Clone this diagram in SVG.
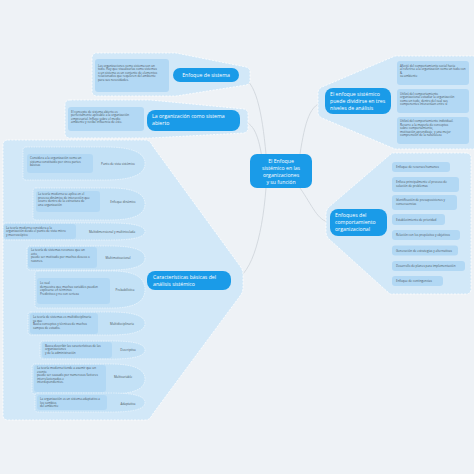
<svg xmlns="http://www.w3.org/2000/svg" width="474" height="474" viewBox="0 0 474 474">
<style>
.bg{fill:#eef2f6}
.cont{fill:#d2e8f8;stroke:#ffffff;stroke-width:0.8;stroke-dasharray:2 1.4}
.item{fill:#c3e1f6;stroke:#ffffff;stroke-width:0.5;stroke-dasharray:1.5 1}
.tb{fill:#b2d8f4}
.pill{fill:#1a9be8}
.pt{font-family:"Open Sans","Liberation Sans",sans-serif;font-size:5.2px;fill:#ffffff}
.tx{font-family:"Open Sans","Liberation Sans",sans-serif;font-size:3px;fill:#4a5560}
.lb{font-family:"Open Sans","Liberation Sans",sans-serif;font-size:3px;fill:#4a5560;text-anchor:middle}
.ln{fill:none;stroke:#cdd3d9;stroke-width:0.8}
</style>
<rect class="bg" x="0" y="0" width="474" height="474"/>

<g id="connectors">
<path class="ln" d="M266 154 C262 112 256 80 240 76"/>
<path class="ln" d="M262 158 C258 132 252 121 240 121"/>
<path class="ln" d="M300 154 C305 122 310 103 325 102"/>
<path class="ln" d="M300 188 C312 205 318 222 330 222"/>
<path class="ln" d="M266 188 C262 240 250 280 230 281"/>
</g>

<g id="enfoque-de-sistema">
<path class="cont" d="M97 53 H176 L246 67 Q250 68 250 72 V80 Q250 84 246 85 L176 96 H97 Q92 96 92 91 V58 Q92 53 97 53 Z"/>
<rect class="tb" x="95" y="59" width="74" height="33" rx="3"/>
<text class="tx" x="98" y="66.5">Las organizaciones como sistema son un</text>
<text class="tx" x="98" y="70">todo. Hay que visualizarlas como sistemas</text>
<text class="tx" x="98" y="73.5">o un sistema es un conjunto de elementos</text>
<text class="tx" x="98" y="77">relacionados que requieren del ambiente</text>
<text class="tx" x="98" y="80.5">para sus necesidades.</text>
<rect class="pill" x="173" y="68" width="66" height="14" rx="7"/>
<text class="pt" x="206" y="77" text-anchor="middle">Enfoque de sistema</text>
</g>

<g id="organizacion-sistema-abierto">
<path class="cont" d="M70 100 H150 L244 109 Q248 110 248 114 V128 Q248 132 244 133 L150 138 H70 Q65 138 65 133 V105 Q65 100 70 100 Z"/>
<rect class="tb" x="68" y="107" width="76" height="24" rx="3"/>
<text class="tx" x="71" y="112.5">El concepto de sistema abierto es</text>
<text class="tx" x="71" y="116">perfectamente aplicable a la organización</text>
<text class="tx" x="71" y="119.5">empresarial. Influye sobre el medio</text>
<text class="tx" x="71" y="123">ambiente y recibe influencia de éste.</text>
<rect class="pill" x="147" y="110" width="93" height="21" rx="8"/>
<text class="pt" x="152" y="118">La organización como sistema</text>
<text class="pt" x="152" y="124.5">abierto</text>
</g>

<g id="centro">
<rect class="pill" x="250" y="154" width="62" height="34" rx="7"/>
<text class="pt" x="281" y="163" text-anchor="middle">El Enfoque</text>
<text class="pt" x="281" y="170" text-anchor="middle">sistémico en las</text>
<text class="pt" x="281" y="177" text-anchor="middle">organizaciones</text>
<text class="pt" x="281" y="184" text-anchor="middle">y su función</text>
</g>

<g id="tres-niveles">
<path class="cont" d="M478 56 H395 L322 87 Q318 89 318 93 V112 Q318 116 322 118 L395 149 H478 Z"/>
<rect class="tb" x="397" y="61" width="72" height="24" rx="3"/>
<text class="tx" x="400" y="66.5">Afectó del comportamiento social hacia</text>
<text class="tx" x="400" y="70">al referirse a la organización como un todo con</text>
<text class="tx" x="400" y="73.5">&amp;</text>
<text class="tx" x="400" y="77">su ambiente</text>
<rect class="tb" x="397" y="89" width="72" height="24" rx="3"/>
<text class="tx" x="400" y="94.5">Utilizó del comportamiento</text>
<text class="tx" x="400" y="98">organizacional estudiar la organización</text>
<text class="tx" x="400" y="101.5">como un todo, dentro del cual sus</text>
<text class="tx" x="400" y="105">componentes interactúan entre sí</text>
<rect class="tb" x="397" y="117" width="72" height="27" rx="3"/>
<text class="tx" x="400" y="122">Utilizó del comportamiento individual.</text>
<text class="tx" x="400" y="125.5">Recurre a la mayoría de conceptos</text>
<text class="tx" x="400" y="129">sobre comportamiento,</text>
<text class="tx" x="400" y="132.5">motivación,aprendizaje, y una mejor</text>
<text class="tx" x="400" y="136">comprensión de la naturaleza</text>
<rect class="pill" x="325" y="88" width="66" height="26" rx="8"/>
<text class="pt" x="330" y="96">El enfoque sistémico</text>
<text class="pt" x="330" y="103">puede dividirse en tres</text>
<text class="pt" x="330" y="110">niveles de análisis</text>
</g>

<g id="comportamiento-organizacional">
<path class="cont" d="M466 153 H392 L329 207 Q326 210 326 214 V232 Q326 236 329 239 L390 294 H466 Q471 294 471 289 V158 Q471 153 466 153 Z"/>
<rect class="tb" x="392" y="162" width="58" height="10" rx="3"/>
<text class="tx" x="396" y="168">Enfoque de recursos humanos</text>
<rect class="tb" x="392" y="177" width="67" height="15" rx="3"/>
<text class="tx" x="396" y="183">Enfoca principalmente el proceso de</text>
<text class="tx" x="396" y="186.5">solución de problemas</text>
<rect class="tb" x="392" y="195" width="65" height="15" rx="3"/>
<text class="tx" x="396" y="201">Identificación de presuposiciones y</text>
<text class="tx" x="396" y="204.5">consecuencias</text>
<rect class="tb" x="392" y="214" width="53" height="11" rx="3"/>
<text class="tx" x="396" y="220.5">Establecimiento de prioridad</text>
<rect class="tb" x="392" y="230" width="68" height="10" rx="3"/>
<text class="tx" x="396" y="236">Relación con los propósitos y objetivos</text>
<rect class="tb" x="392" y="245.5" width="66" height="10" rx="3"/>
<text class="tx" x="396" y="251.5">Generación de estrategias y alternativas</text>
<rect class="tb" x="392" y="261" width="73" height="10" rx="3"/>
<text class="tx" x="396" y="267">Desarrollo de planes para implementación</text>
<rect class="tb" x="392" y="276" width="51" height="10" rx="3"/>
<text class="tx" x="396" y="282">Enfoque de contingencias</text>
<rect class="pill" x="330" y="209" width="57" height="27" rx="8"/>
<text class="pt" x="335" y="216.5">Enfoques del</text>
<text class="pt" x="335" y="223.5">comportamiento</text>
<text class="pt" x="335" y="230.5">organizacional</text>
</g>

<g id="caracteristicas">
<path class="cont" d="M8 140 H145 Q150 140 152 145 L240 266 Q243 270 243 274 V288 Q243 292 240 296 L152 415 Q150 420 145 420 H8 Q3 420 3 415 V145 Q3 140 8 140 Z"/>

<g id="punto-de-vista">
<path class="item" d="M26 147 H105 Q145 147 145 163.5 Q145 180 105 180 H26 Q23 180 23 177 V150 Q23 147 26 147 Z"/>
<rect class="tb" x="27" y="154" width="66" height="19" rx="3"/>
<text class="tx" x="30" y="159.3">Considera a la organización como un</text>
<text class="tx" x="30" y="162.8">sistema constituido por cinco partes</text>
<text class="tx" x="30" y="166.3">básicas</text>
<text class="lb" x="118" y="165">Punto de vista sistémico</text>
</g>
<g id="enfoque-dinamico">
<path class="item" d="M36 188 H110 Q145 188 145 204 Q145 220 110 220 H36 Q33 220 33 217 V191 Q33 188 36 188 Z"/>
<rect class="tb" x="36" y="191" width="64" height="21" rx="3"/>
<text class="tx" x="38" y="195">La teoría moderna se aplica en el</text>
<text class="tx" x="38" y="198.7">proceso dinámico de interacción que</text>
<text class="tx" x="38" y="202.4">ocurre dentro de la estructura de</text>
<text class="tx" x="38" y="206.1">una organización</text>
<text class="lb" x="123" y="203">Enfoque dinámico</text>
</g>
<g id="multidimensional">
<path class="item" d="M6 223 H110 Q145 223 145 231.5 Q145 240 110 240 H6 Q3 240 3 237 V226 Q3 223 6 223 Z"/>
<rect class="tb" x="4" y="224" width="72" height="15" rx="3"/>
<text class="tx" x="6" y="228.5">La teoría moderna considera a la</text>
<text class="tx" x="6" y="232">organización desde el punto de vista micro</text>
<text class="tx" x="6" y="235.5">y macroscópico</text>
<text class="lb" x="112" y="233">Multidimensional y multinivelada</text>
</g>
<g id="multimotivacional">
<path class="item" d="M30 246 H110 Q145 246 145 258 Q145 270 110 270 H30 Q27 270 27 267 V249 Q27 246 30 246 Z"/>
<rect class="tb" x="28" y="247" width="69" height="21" rx="3"/>
<text class="tx" x="31" y="251">La teoría de sistemas reconoce que un</text>
<text class="tx" x="31" y="254.5">acto</text>
<text class="tx" x="31" y="258">puede ser motivado por muchos deseos o</text>
<text class="tx" x="31" y="261.5">razones.</text>
<text class="lb" x="118" y="259">Multimotivacional</text>
</g>
<g id="probabilistica">
<path class="item" d="M38 271 H112 Q145 271 145 289.5 Q145 308 112 308 H38 Q35 308 35 305 V274 Q35 271 38 271 Z"/>
<rect class="tb" x="37" y="278" width="73" height="26" rx="3"/>
<text class="tx" x="40" y="284">Lo cual</text>
<text class="tx" x="40" y="287.5">demuestra que muchas variables pueden</text>
<text class="tx" x="40" y="291">explicarse en términos</text>
<text class="tx" x="40" y="294.5">Predictivos y no con certeza</text>
<text class="lb" x="125" y="291">Probabilística</text>
</g>
<g id="multidisciplinaria">
<path class="item" d="M31 312 H110 Q145 312 145 323.5 Q145 335 110 335 H31 Q28 335 28 332 V315 Q28 312 31 312 Z"/>
<rect class="tb" x="30" y="313" width="68" height="21" rx="3"/>
<text class="tx" x="33" y="318.3">La teoría de sistemas es multidisciplinaria</text>
<text class="tx" x="33" y="321.8">ya que</text>
<text class="tx" x="33" y="325.3">Busca conceptos y técnicas de muchos</text>
<text class="tx" x="33" y="328.8">campos de estudio.</text>
<text class="lb" x="122" y="325">Multidisciplinaria</text>
</g>
<g id="descriptiva">
<path class="item" d="M43 341 H112 Q145 341 145 350 Q145 359 112 359 H43 Q40 359 40 356 V344 Q40 341 43 341 Z"/>
<rect class="tb" x="42" y="342" width="70" height="16" rx="3"/>
<text class="tx" x="45" y="346.5">Busca describir las características de las</text>
<text class="tx" x="45" y="350">organizaciones</text>
<text class="tx" x="45" y="353.5">y de la administración</text>
<text class="lb" x="128" y="351">Descriptiva</text>
</g>
<g id="multivariable">
<path class="item" d="M35 364 H110 Q145 364 145 379 Q145 394 110 394 H35 Q32 394 32 391 V367 Q32 364 35 364 Z"/>
<rect class="tb" x="34" y="365" width="72" height="27" rx="3"/>
<text class="tx" x="37" y="369">La teoría moderna tiende a asumir que un</text>
<text class="tx" x="37" y="372.5">evento</text>
<text class="tx" x="37" y="376">puede ser causado por numerosos factores</text>
<text class="tx" x="37" y="379.5">interrelacionados e</text>
<text class="tx" x="37" y="383">interdependientes.</text>
<text class="lb" x="123" y="378">Multivariable</text>
</g>
<g id="adaptativa">
<path class="item" d="M38 393 H112 Q145 393 145 402.5 Q145 412 112 412 H38 Q35 412 35 409 V396 Q35 393 38 393 Z"/>
<rect class="tb" x="37" y="395" width="70" height="15" rx="3"/>
<text class="tx" x="40" y="400">La organización es un sistema adaptativo a</text>
<text class="tx" x="40" y="403.5">los cambios</text>
<text class="tx" x="40" y="407">del ambiente</text>
<text class="lb" x="128" y="405">Adaptativa</text>
</g>

<rect class="pill" x="147" y="271" width="84" height="19" rx="8"/>
<text class="pt" x="153" y="279">Características básicas del</text>
<text class="pt" x="153" y="285.5">análisis sistémico</text>
</g>
</svg>
